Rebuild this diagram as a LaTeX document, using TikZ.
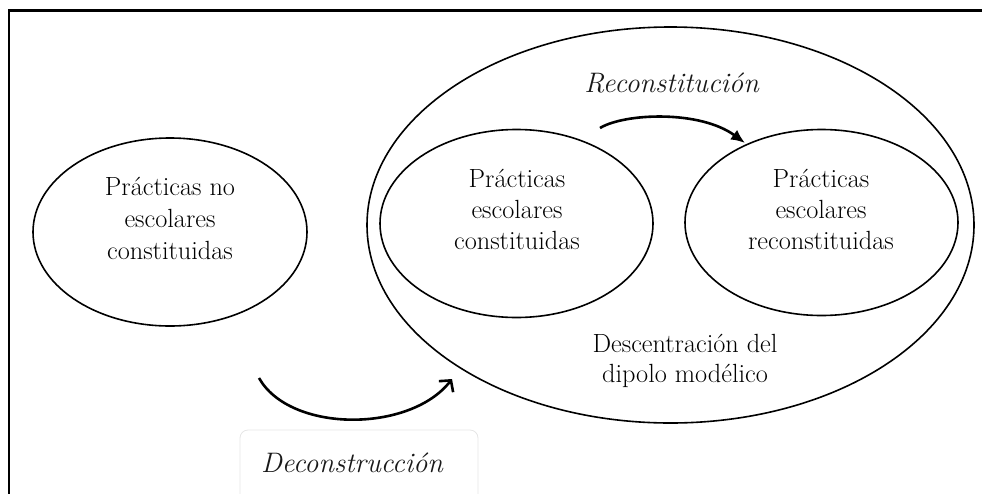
\documentclass[tikz,border=0pt]{standalone}
\usetikzlibrary{shapes.geometric,arrows.meta}
\begin{document}
\begin{tikzpicture}[x=1pt,y=-1pt,
  oval/.style={draw=black, line width=1.6pt, ellipse, inner sep=0pt},
  lbl/.style={align=center, text=black, inner sep=0pt},
  ital/.style={font=\fontsize{28.2}{32}\selectfont\itshape, text=black!90, inner sep=0pt, anchor=base},
  flow/.style={line width=2.6pt},
  softbox/.style={draw=black!10, line width=0.8pt, rounded corners=8pt, inner sep=0pt}
]
\useasboundingbox (0,0) rectangle (982,493);
% frame (only top and left edges are inside the picture)
\draw[line width=2.4pt, line join=miter] (9,500) -- (9,10.5) -- (990,10.5);

% ellipses
\node[oval, minimum width=607pt, minimum height=396pt] (outer) at (670.5,225) {};
\node[oval, minimum width=274pt, minimum height=188pt] (left) at (170,232) {};
\node[oval, minimum width=273pt, minimum height=188pt] (mid) at (516.5,223.5) {};
\node[oval, minimum width=273pt, minimum height=186pt] (right) at (821.5,222.5) {};

% texts
\node[lbl, font=\fontsize{26.3}{32}\selectfont] (tleft) at (170,218) {Prácticas no\\escolares\\constituidas};
\node[lbl, font=\fontsize{26.3}{31}\selectfont] (tmid) at (517,209) {Prácticas\\escolares\\constituidas};
\node[lbl, font=\fontsize{26.3}{31}\selectfont] (tright) at (821,209) {Prácticas\\escolares\\reconstituidas};
\node[lbl, font=\fontsize{26.3}{30}\selectfont] (tdesc) at (685,360.5) {Descentración del\\dipolo modélico};

% Deconstrucción box and label
\node[softbox, minimum width=238pt, minimum height=90pt] (dbox) at (359,475) {};
\node[ital] (decon) at (352,472) {Deconstrucción};
\node[ital] (recon) at (671.5,92) {Reconstitución};

% arrows
\coordinate (d0) at (259,378);
\coordinate (d1) at (452,379);
\draw[flow, -{Straight Barb[length=8pt,width=18pt]}] (d0) .. controls (290,433) and (410,433) .. (d1);

\coordinate (r0) at (600,128);
\coordinate (r1) at (745,143);
\draw[flow, -{Latex[length=14pt,width=12pt]}] (r0) .. controls (625,113) and (700,110) .. (r1);
\end{tikzpicture}
\end{document}
